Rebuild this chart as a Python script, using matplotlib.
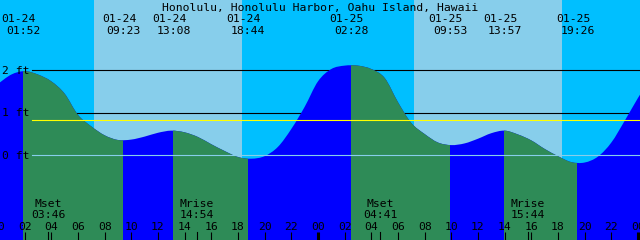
import numpy as np
import matplotlib
matplotlib.use("Agg")
import matplotlib.pyplot as plt
from matplotlib.path import Path
from matplotlib.patches import PathPatch

TITLE = "Honolulu, Honolulu Harbor, Oahu Island, Hawaii"

hours = list(range(50))
height_ft = [1.68, 1.90, 1.98, 1.90, 1.74, 1.45, 0.95, 0.68, 0.47, 0.36,
             0.37, 0.44, 0.53, 0.58, 0.54, 0.43, 0.26, 0.10, -0.04, -0.08,
             -0.02, 0.20, 0.62, 1.14, 1.74, 2.03, 2.11, 2.11, 2.03, 1.82,
             1.25, 0.76, 0.50, 0.30, 0.24, 0.28, 0.39, 0.52, 0.58, 0.49,
             0.35, 0.15, -0.02, -0.16, -0.17, -0.03, 0.30, 0.81, 1.35, 1.85]

# high / low tide events (top labels)
tide_dates = ["01-24", "01-24", "01-24", "01-24", "01-25", "01-25", "01-25", "01-25"]
tide_times = ["01:52", "09:23", "13:08", "18:44", "02:28", "09:53", "13:57", "19:26"]
tide_day = [0, 0, 0, 0, 1, 1, 1, 1]
tide_kind = ["high", "low", "high", "low", "high", "low", "high", "low"]

# moon events (bottom labels)
moon_labels = ["Mset", "Mrise", "Mset", "Mrise"]
moon_times = ["03:46", "14:54", "04:41", "15:44"]
moon_day = [0, 0, 1, 1]

sunrise = ["07:12", "07:12"]
sunset = ["18:18", "18:18"]
sun_day = [0, 1]

level_ft = [2, 1, 0]
level_labels = ["2 ft", "1 ft", "0 ft"]
mean_level = 0.82

hour_ticks = list(range(0, 49, 2))

NIGHT = "#00BFFF"
DAY = "#87CEEB"
RISE = "#0000FF"
FALL = "#2E8B57"

W, H = 640, 240


def to_hours(hhmm, day):
    h, m = map(int, hhmm.split(":"))
    return 24 * day + h + m / 60


def ypx(y):
    # pixel row from the top -> axes fraction
    return 1 - y / H


def water_path(x, y, floor=-3):
    # smooth outline through the readings (Catmull-Rom as cubic beziers)
    x = np.asarray(x, float)
    y = np.asarray(y, float)
    px = np.r_[x[0], x, x[-1]]
    py = np.r_[y[0], y, y[-1]]
    verts = [(x[0], floor), (x[0], y[0])]
    codes = [Path.MOVETO, Path.LINETO]
    for i in range(len(x) - 1):
        c1 = (px[i + 1] + (px[i + 2] - px[i]) / 6, py[i + 1] + (py[i + 2] - py[i]) / 6)
        c2 = (px[i + 2] - (px[i + 3] - px[i + 1]) / 6, py[i + 2] - (py[i + 3] - py[i + 1]) / 6)
        verts += [c1, c2, (x[i + 1], y[i + 1])]
        codes += [Path.CURVE4] * 3
    verts += [(x[-1], floor), (x[0], floor)]
    codes += [Path.LINETO, Path.CLOSEPOLY]
    return Path(verts, codes)


plt.rcParams["font.family"] = "DejaVu Sans Mono"
plt.rcParams["font.size"] = 8.2

fig = plt.figure(figsize=(W / 100, H / 100), dpi=100)
ax = fig.add_axes([0, 0, 1, 1])
ax.set_xlim(0.15, 48.15)
ax.set_ylim(-1.993, 3.654)
ax.set_axis_off()
xt = ax.get_xaxis_transform()

# sky: night, then daylight bands
ax.axvspan(-1, 50, color=NIGHT, lw=0, zorder=0)
for r, s, d in zip(sunrise, sunset, sun_day):
    ax.axvspan(to_hours(r, d), to_hours(s, d), color=DAY, lw=0, zorder=0.5)

# 2 ft / 1 ft reference lines sit behind the water
for lv in level_ft[:2]:
    ax.axhline(lv, xmin=32 / W, color="black", lw=0.8, zorder=1)

# water: blue while rising, green while falling
water = PathPatch(water_path(hours, height_ft), facecolor=RISE, lw=0, zorder=2)
ax.add_patch(water)
ev = [to_hours(t, d) for t, d in zip(tide_times, tide_day)]
for i, kind in enumerate(tide_kind):
    if kind == "high" and i + 1 < len(ev):
        span = ax.axvspan(ev[i], ev[i + 1], color=FALL, lw=0, zorder=2.1)
        span.set_clip_path(water)

ax.axhline(mean_level, xmin=32 / W, color="#FFFF00", lw=0.8, zorder=3)
ax.axhline(level_ft[2], xmin=32 / W, color=DAY, lw=0.8, zorder=3)

# left level labels
for lv, lab in zip(level_ft, level_labels):
    yb = 155.3 - 42.5 * lv + 3.5
    ax.text(2 / W, ypx(yb), lab, transform=ax.transAxes, ha="left",
            va="baseline", zorder=4)

# title and tide event labels
ax.text(0.5, ypx(10.5), TITLE, transform=ax.transAxes, ha="center",
        va="baseline", zorder=4)
for h, dt, tm in zip(ev, tide_dates, tide_times):
    ax.text(h - 0.3, ypx(22), dt, transform=xt, ha="center", va="baseline", zorder=4)
    ax.text(h + 0.04, ypx(34), tm, transform=xt, ha="center", va="baseline", zorder=4)

# moon labels + ticks
for lab, tm, d in zip(moon_labels, moon_times, moon_day):
    h = to_hours(tm, d)
    ax.text(h, ypx(206.7), lab, transform=xt, ha="center", va="baseline", zorder=4)
    ax.text(h, ypx(218.3), tm, transform=xt, ha="center", va="baseline", zorder=4)
    ax.plot([h, h], [0, 8 / H], transform=xt, color="black", lw=0.8, zorder=4)

# hour axis along the bottom (00 at both edges is cut, as in the original)
for h in hour_ticks:
    ax.text(h, ypx(230), f"{h % 24:02d}", transform=xt, ha="center",
            va="baseline", zorder=4)
    lw = 2.2 if h % 24 == 0 else 0.8
    ax.plot([h, h], [0, 8 / H], transform=xt, color="black", lw=lw,
            solid_capstyle="butt", zorder=4)

fig.savefig("out.png", dpi=100)
